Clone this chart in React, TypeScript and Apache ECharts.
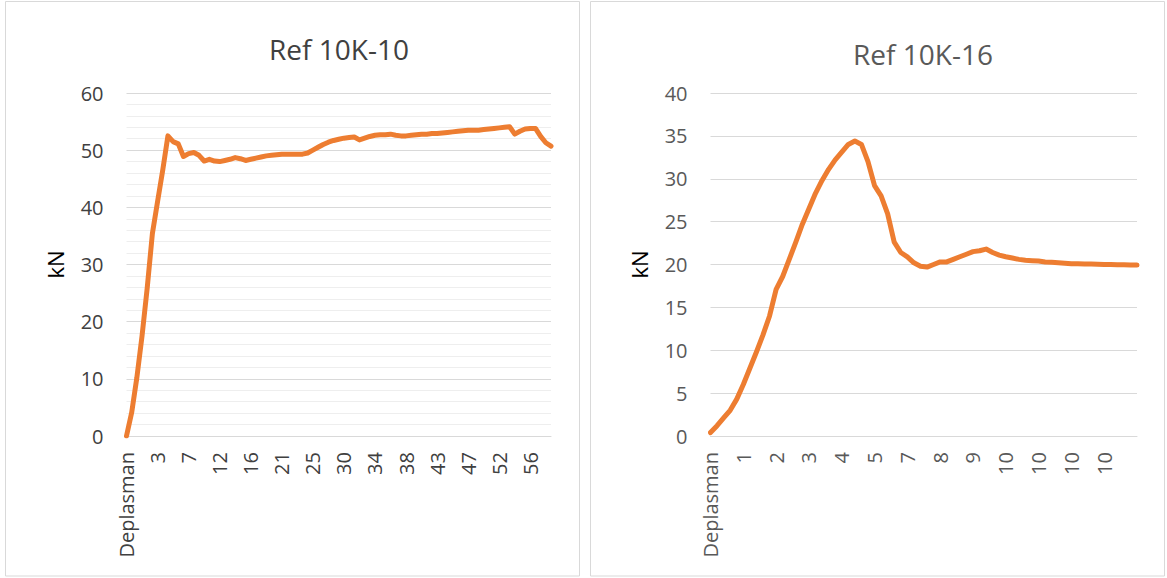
import React, { useEffect, useRef } from "react";
import * as echarts from "echarts";

// ---------- data ----------
const leftTitle = "Ref 10K-10";
const rightTitle = "Ref 10K-16";

// visible category labels (Excel shows every n-th category)
const leftTickLabels = ["Deplasman", "3", "7", "12", "16", "21", "25", "30", "34", "38", "43", "47", "52", "56"];
const rightTickLabels = ["Deplasman", "1", "2", "3", "4", "5", "7", "8", "9", "10", "10", "10", "10"];

const leftLabelStep = 6;
const rightLabelStep = 5;

// kN values
const leftValues = [
  0, 4.1, 10.2, 17.5, 25.9, 35.4, 41.0, 46.5, 52.5, 51.5,
  51.1, 48.9, 49.4, 49.6, 49.1, 48.1, 48.4, 48.1, 48.0, 48.2,
  48.4, 48.7, 48.5, 48.2, 48.4, 48.6, 48.8, 49.0, 49.1, 49.2,
  49.3, 49.3, 49.3, 49.3, 49.3, 49.5, 50.0, 50.5, 51.0, 51.4,
  51.7, 51.9, 52.1, 52.2, 52.3, 51.8, 52.1, 52.4, 52.6, 52.7,
  52.7, 52.8, 52.6, 52.5, 52.5, 52.6, 52.7, 52.8, 52.8, 52.9,
  52.9, 53.0, 53.1, 53.2, 53.3, 53.4, 53.5, 53.5, 53.5, 53.6,
  53.7, 53.8, 53.9, 54.0, 54.1, 52.8, 53.3, 53.7, 53.8, 53.8,
  52.4, 51.3, 50.7,
];

const rightValues = [
  0.4, 1.2, 2.1, 3.0, 4.3, 6.0, 7.9, 9.8, 11.8, 14.0,
  17.1, 18.6, 20.6, 22.6, 24.7, 26.5, 28.3, 29.8, 31.1, 32.2,
  33.1, 34.0, 34.4, 34.0, 32.0, 29.2, 28.0, 25.9, 22.6, 21.4,
  20.9, 20.2, 19.8, 19.7, 20.0, 20.3, 20.3, 20.6, 20.9, 21.2,
  21.5, 21.6, 21.8, 21.4, 21.1, 20.9, 20.75, 20.6, 20.5, 20.45,
  20.4, 20.3, 20.25, 20.2, 20.15, 20.1, 20.1, 20.07, 20.05, 20.03,
  20.0, 20.0, 19.98, 19.96, 19.95, 19.93,
];

const leftYMax = 60;
const leftYInterval = 10;
const rightYMax = 40;
const rightYInterval = 5;

// ---------- helpers ----------
const buildCategories = (ticks: string[], step: number, count: number) =>
  Array.from({ length: count }, (_, i) =>
    i % step === 0 && ticks[i / step] !== undefined ? ticks[i / step] : ""
  );

const FONT = "'Open Sans', 'Noto Sans', sans-serif";
const ORANGE = "#ED7D31";

export default function App() {
  const ref = useRef<HTMLDivElement>(null);

  useEffect(() => {
    document.body.style.margin = "0";
    if (!ref.current) return;
    const chart = echarts.init(ref.current, null, { renderer: "svg" });

    const leftCats = buildCategories(leftTickLabels, leftLabelStep, leftValues.length);
    const rightCats = buildCategories(rightTickLabels, rightLabelStep, rightValues.length);

    const xAxisBase = (gridIndex: number, data: string[], step: number, color: string) => ({
      type: "category" as const,
      gridIndex,
      data,
      boundaryGap: false,
      axisTick: { show: false },
      axisLine: { show: true, lineStyle: { color: "#d9d9d9", width: 1 } },
      axisLabel: {
        interval: step - 1,
        rotate: 90,
        margin: 16,
        color,
        fontSize: 20,
        fontFamily: FONT,
      },
      splitLine: { show: false },
    });

    const yAxisBase = (gridIndex: number, max: number, interval: number, color: string, minor: boolean) => ({
      type: "value" as const,
      gridIndex,
      min: 0,
      max,
      interval,
      name: "kN",
      nameLocation: "middle" as const,
      nameGap: 61,
      nameRotate: 90,
      nameTextStyle: { fontSize: 22, color: "#000000", fontFamily: FONT },
      axisLine: { show: false },
      axisTick: { show: false },
      axisLabel: { color, fontSize: 20, fontFamily: FONT, margin: 23 },
      splitLine: { show: true, lineStyle: { color: "#d9d9d9", width: 1 } },
      minorTick: { show: false, splitNumber: 5 },
      minorSplitLine: { show: minor, lineStyle: { color: "#eeeeee", width: 1 } },
    });

    chart.setOption({
      animation: false,
      textStyle: { fontFamily: FONT },
      graphic: [
        {
          type: "rect",
          silent: true,
          z: -10,
          shape: { x: 5.5, y: 1.5, width: 574, height: 574.5 },
          style: { fill: "none", stroke: "#d9d9d9", lineWidth: 1 },
        },
        {
          type: "rect",
          silent: true,
          z: -10,
          shape: { x: 590.5, y: 1.5, width: 574, height: 574.5 },
          style: { fill: "none", stroke: "#d9d9d9", lineWidth: 1 },
        },
        {
          type: "text",
          x: 339,
          y: 49,
          style: {
            text: leftTitle,
            align: "center",
            verticalAlign: "middle",
            fontSize: 28,
            fontFamily: FONT,
            fill: "#404040",
          },
        },
        {
          type: "text",
          x: 923,
          y: 54,
          style: {
            text: rightTitle,
            align: "center",
            verticalAlign: "middle",
            fontSize: 28,
            fontFamily: FONT,
            fill: "#595959",
          },
        },
      ],
      grid: [
        { left: 126.5, right: 1167 - 551, top: 93, bottom: 578 - 436, containLabel: false },
        { left: 710.5, right: 1167 - 1137, top: 93, bottom: 578 - 436, containLabel: false },
      ],
      xAxis: [
        xAxisBase(0, leftCats, leftLabelStep, "#404040"),
        xAxisBase(1, rightCats, rightLabelStep, "#595959"),
      ],
      yAxis: [
        yAxisBase(0, leftYMax, leftYInterval, "#404040", true),
        yAxisBase(1, rightYMax, rightYInterval, "#595959", false),
      ],
      series: [
        {
          type: "line",
          xAxisIndex: 0,
          yAxisIndex: 0,
          data: leftValues,
          showSymbol: false,
          symbol: "none",
          lineStyle: { color: ORANGE, width: 5, cap: "round", join: "round" },
          itemStyle: { color: ORANGE },
        },
        {
          type: "line",
          xAxisIndex: 1,
          yAxisIndex: 1,
          data: rightValues,
          showSymbol: false,
          symbol: "none",
          lineStyle: { color: ORANGE, width: 5, cap: "round", join: "round" },
          itemStyle: { color: ORANGE },
        },
      ],
    });

    return () => {
      chart.dispose();
    };
  }, []);

  return <div ref={ref} style={{ width: 1167, height: 578 }} />;
}
